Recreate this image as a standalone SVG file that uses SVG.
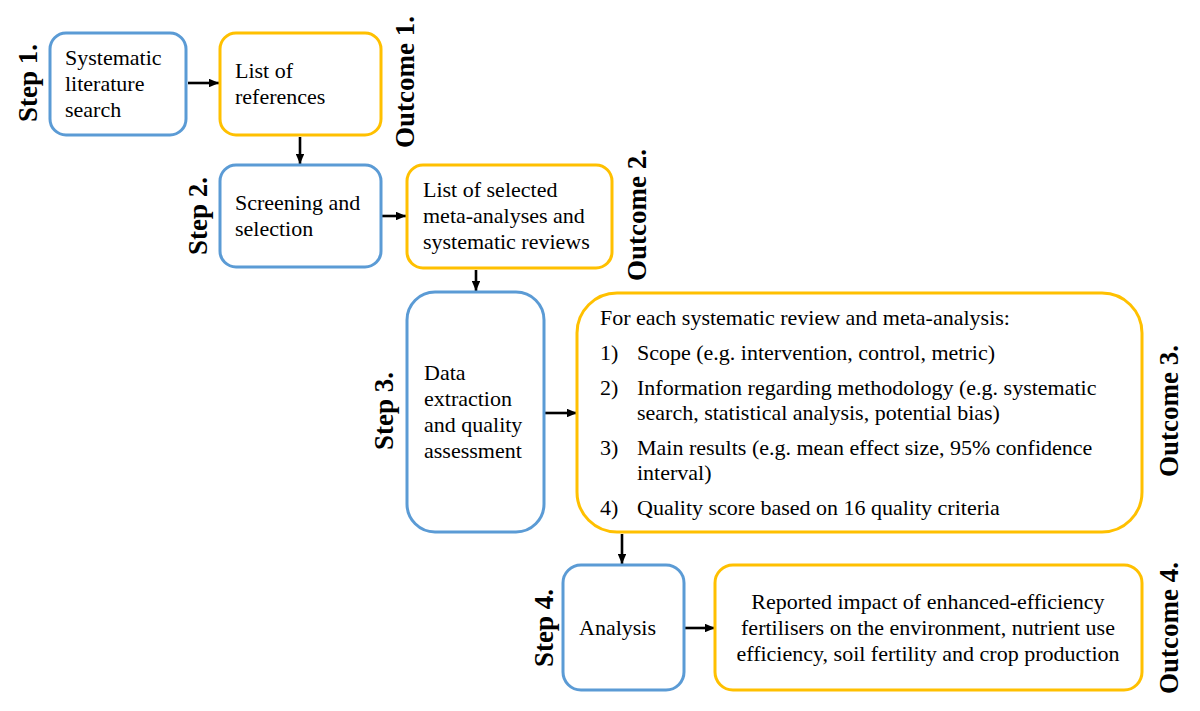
<svg xmlns="http://www.w3.org/2000/svg" width="1200" height="711" viewBox="0 0 1200 711">
<defs>
<marker id="ah" viewBox="0 0 10 10" refX="10" refY="5" markerWidth="4" markerHeight="3.4" orient="auto" markerUnits="strokeWidth" preserveAspectRatio="none">
<path d="M0,0 L10,5 L0,10 z" fill="#000"/>
</marker>
<style>
.step{fill:#fff;stroke:#5B9BD5;stroke-width:3}
.out{fill:#fff;stroke:#FFC000;stroke-width:3}
text{font-family:'Liberation Serif','Times New Roman',serif;fill:#000}
.t{font-size:22px}
.lab{font-size:27px;font-weight:bold}
.c{stroke:#000;stroke-width:2.6;fill:none;marker-end:url(#ah)}
</style>
</defs>
<rect width="1200" height="711" fill="#fff"/>
<g id="connectors">
<line class="c" x1="188" y1="83" x2="219" y2="83"/>
<line class="c" x1="300" y1="137" x2="300" y2="164"/>
<line class="c" x1="382" y1="216" x2="406" y2="216"/>
<line class="c" x1="476" y1="270" x2="476" y2="291"/>
<line class="c" x1="545" y1="413" x2="577" y2="413"/>
<line class="c" x1="622" y1="534" x2="622" y2="564"/>
<line class="c" x1="685" y1="628" x2="715" y2="628"/>
</g>
<g id="step1">
<rect class="step" x="50" y="33" width="136" height="102" rx="16"/>
<text class="t" x="65" y="65">Systematic</text>
<text class="t" x="65" y="91">literature</text>
<text class="t" x="65" y="117">search</text>
<text class="lab" transform="translate(37,83) rotate(-90)" text-anchor="middle">Step 1.</text>
</g>
<g id="outcome1">
<rect class="out" x="220" y="33" width="161" height="102" rx="16"/>
<text class="t" x="235" y="78">List of</text>
<text class="t" x="235" y="104">references</text>
<text class="lab" transform="translate(414,82) rotate(-90)" text-anchor="middle">Outcome 1.</text>
</g>
<g id="step2">
<rect class="step" x="220" y="165" width="161" height="102" rx="16"/>
<text class="t" x="235" y="210">Screening and</text>
<text class="t" x="235" y="236">selection</text>
<text class="lab" transform="translate(207,216) rotate(-90)" text-anchor="middle">Step 2.</text>
</g>
<g id="outcome2">
<rect class="out" x="407" y="165" width="205" height="103" rx="16"/>
<text class="t" x="423" y="197">List of selected</text>
<text class="t" x="423" y="223">meta-analyses and</text>
<text class="t" x="423" y="249">systematic reviews</text>
<text class="lab" transform="translate(646,215) rotate(-90)" text-anchor="middle">Outcome 2.</text>
</g>
<g id="step3">
<rect class="step" x="407" y="292" width="137" height="240" rx="28"/>
<text class="t" x="424" y="380">Data</text>
<text class="t" x="424" y="406">extraction</text>
<text class="t" x="424" y="432">and quality</text>
<text class="t" x="424" y="458">assessment</text>
<text class="lab" transform="translate(393,411) rotate(-90)" text-anchor="middle">Step 3.</text>
</g>
<g id="outcome3">
<rect class="out" x="577" y="293" width="565" height="239" rx="40"/>
<text class="t" x="600" y="325">For each systematic review and meta-analysis:</text>
<text class="t" x="600" y="360">1)</text>
<text class="t" x="637" y="360">Scope (e.g. intervention, control, metric)</text>
<text class="t" x="600" y="395">2)</text>
<text class="t" x="637" y="395">Information regarding methodology (e.g. systematic</text>
<text class="t" x="637" y="420">search, statistical analysis, potential bias)</text>
<text class="t" x="600" y="455">3)</text>
<text class="t" x="637" y="455">Main results (e.g. mean effect size, 95% confidence</text>
<text class="t" x="637" y="480">interval)</text>
<text class="t" x="600" y="515">4)</text>
<text class="t" x="637" y="515">Quality score based on 16 quality criteria</text>
<text class="lab" transform="translate(1178,411) rotate(-90)" text-anchor="middle">Outcome 3.</text>
</g>
<g id="step4">
<rect class="step" x="563" y="565" width="121" height="125" rx="18"/>
<text class="t" x="579" y="635">Analysis</text>
<text class="lab" transform="translate(553,628) rotate(-90)" text-anchor="middle">Step 4.</text>
</g>
<g id="outcome4">
<rect class="out" x="715" y="565" width="427" height="125" rx="18"/>
<text class="t" x="928" y="609" text-anchor="middle">Reported impact of enhanced-efficiency</text>
<text class="t" x="928" y="635" text-anchor="middle">fertilisers on the environment, nutrient use</text>
<text class="t" x="928" y="661" text-anchor="middle">efficiency, soil fertility and crop production</text>
<text class="lab" transform="translate(1178,628) rotate(-90)" text-anchor="middle">Outcome 4.</text>
</g>
</svg>
